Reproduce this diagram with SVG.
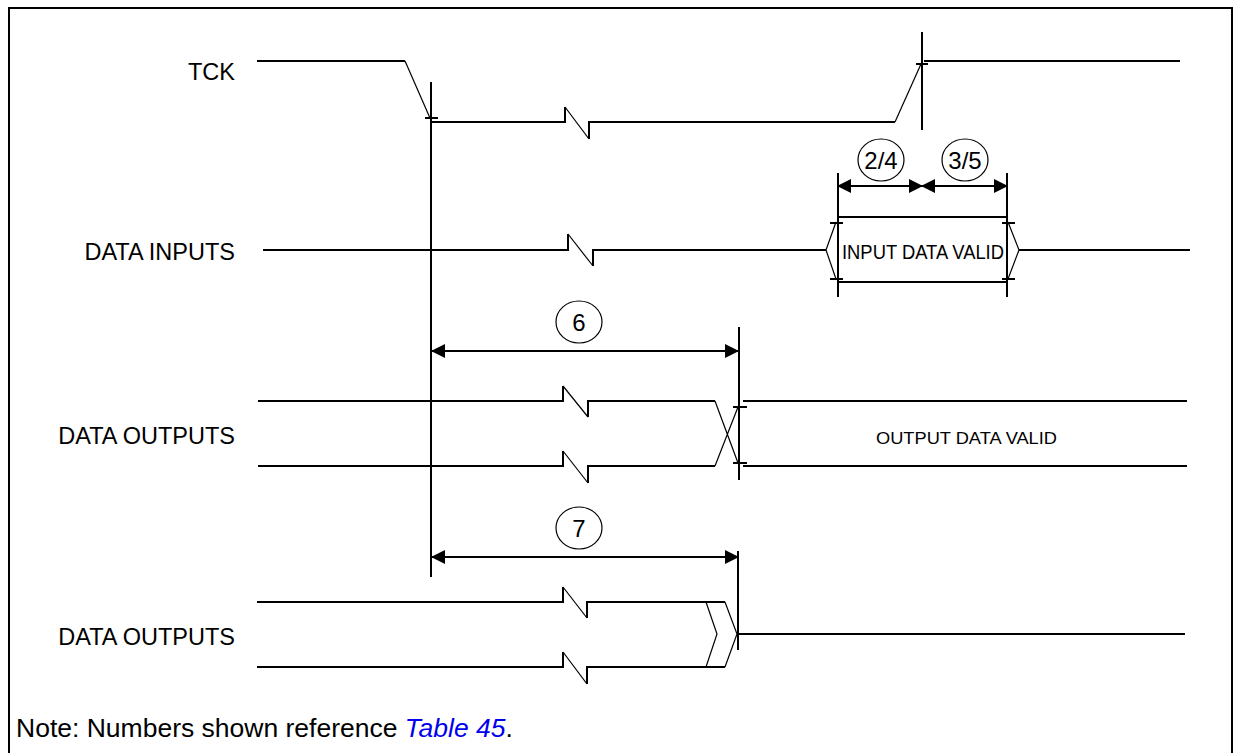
<svg xmlns="http://www.w3.org/2000/svg" width="1240" height="753" viewBox="0 0 1240 753">
<style>
.sig{fill:none;stroke:#000;stroke-width:2;stroke-linejoin:miter}
.thin{fill:none;stroke:#000;stroke-width:1.2}
.ref{fill:none;stroke:#000;stroke-width:2}
.dim{fill:none;stroke:#000;stroke-width:2}
.circ{fill:#fff;stroke:#000;stroke-width:1.2}
.lbl{font-family:"Liberation Sans",Arial,sans-serif;font-size:23.5px;fill:#000}
.num{font-family:"Liberation Sans",Arial,sans-serif;font-size:24px;fill:#000;text-anchor:middle}
.val{font-family:"Liberation Sans",Arial,sans-serif;font-size:17px;fill:#000}
.val-in{font-family:"Liberation Sans",Arial,sans-serif;font-size:20px;fill:#000}
.note{font-family:"Liberation Sans",Arial,sans-serif;font-size:26.5px;fill:#000}
</style>
<defs>
<marker id="ah" viewBox="0 0 14 14" refX="13" refY="7" markerWidth="14" markerHeight="14" markerUnits="userSpaceOnUse" orient="auto-start-reverse">
<path d="M0,0 L14,7 L0,14 Z" fill="#000"/>
</marker>
</defs>
<rect width="1240" height="753" fill="#fff"/>
<path d="M9,760 V8 H1232 V760" fill="none" stroke="#000" stroke-width="2"/>

<g id="tck">
<text class="lbl" x="235" y="80" text-anchor="end">TCK</text>
<path class="sig" d="M257,61 H405"/>
<path class="thin" d="M405,61 L430,118"/>
<path class="sig" d="M431,122 H565 V107"/>
<path class="thin" d="M565,107 L589,139"/>
<path class="sig" d="M589,139 V122 H895"/>
<path class="thin" d="M895,122 L921,64"/>
<path class="sig" d="M924,61 H1180"/>
<path class="ref" d="M425,118 H438 M916,64 H928"/>
</g>

<g id="data-inputs">
<text class="lbl" x="235" y="260" text-anchor="end">DATA INPUTS</text>
<path class="sig" d="M263,250 H568 V234"/>
<path class="thin" d="M568,234 L593,266"/>
<path class="sig" d="M593,266 V250 H826"/>
<path class="thin" d="M836,222 L826,250 L836,279 M1008,222 L1019,250 L1008,279"/>
<path class="sig" d="M838,217 H1007 M838,282 H1007 M1019,250 H1190"/>
<path class="ref" d="M830,223 H843 M830,279 H843 M1002,223 H1015 M1002,279 H1015"/>
<text class="val-in" x="842" y="259" textLength="162" lengthAdjust="spacingAndGlyphs">INPUT DATA VALID</text>
</g>

<g id="data-outputs-1">
<text class="lbl" x="235" y="444" text-anchor="end">DATA OUTPUTS</text>
<path class="sig" d="M258,401 H563 V386"/>
<path class="thin" d="M563,386 L588,417"/>
<path class="sig" d="M588,417 V401 H715"/>
<path class="sig" d="M258,466 H563 V451"/>
<path class="thin" d="M563,451 L588,483"/>
<path class="sig" d="M588,483 V466 H715"/>
<path class="thin" d="M715,401 L738,463 M715,466 L738,407"/>
<path class="ref" d="M733,407 H747 M733,463 H747"/>
<path class="sig" d="M743,401 H1187 M743,466 H1187"/>
<text class="val" x="876" y="444" textLength="181" lengthAdjust="spacingAndGlyphs">OUTPUT DATA VALID</text>
</g>

<g id="data-outputs-2">
<text class="lbl" x="235" y="645" text-anchor="end">DATA OUTPUTS</text>
<path class="sig" d="M257,602 H563 V587"/>
<path class="thin" d="M563,587 L587,618"/>
<path class="sig" d="M587,618 V602 H725"/>
<path class="sig" d="M257,667 H563 V652"/>
<path class="thin" d="M563,652 L587,684"/>
<path class="sig" d="M587,684 V667 H725"/>
<path class="thin" d="M706,602 L717,634 L706,667 M725,602 L737,634 L725,667"/>
<path class="sig" d="M738,634 H1185"/>
</g>

<g id="connectors">
<path class="ref" d="M431,82 V577"/>
<path class="ref" d="M922,32 V130"/>
<path class="ref" d="M838,173 V297 M1007,173 V297"/>
<path class="ref" d="M739,327 V480"/>
<path class="ref" d="M738,551 V650"/>
<path class="dim" d="M838,186 H922" marker-start="url(#ah)" marker-end="url(#ah)"/>
<path class="dim" d="M922,186 H1007" marker-start="url(#ah)" marker-end="url(#ah)"/>
<path class="dim" d="M432,351 H738" marker-start="url(#ah)" marker-end="url(#ah)"/>
<path class="dim" d="M432,557 H738" marker-start="url(#ah)" marker-end="url(#ah)"/>
</g>

<g id="label-2-4">
<ellipse class="circ" cx="881" cy="160" rx="23" ry="21"/>
<text class="num" x="881" y="169">2/4</text>
</g>
<g id="label-3-5">
<ellipse class="circ" cx="965" cy="160" rx="23" ry="21"/>
<text class="num" x="965" y="169">3/5</text>
</g>
<g id="label-6">
<ellipse class="circ" cx="579" cy="322" rx="23" ry="21"/>
<text class="num" x="579" y="331">6</text>
</g>
<g id="label-7">
<ellipse class="circ" cx="579" cy="528" rx="23" ry="21"/>
<text class="num" x="579" y="537">7</text>
</g>

<g id="note">
<text class="note" x="16" y="737">Note: Numbers shown reference <tspan fill="#0000ee" font-style="italic">Table 45</tspan>.</text>
</g>
</svg>
